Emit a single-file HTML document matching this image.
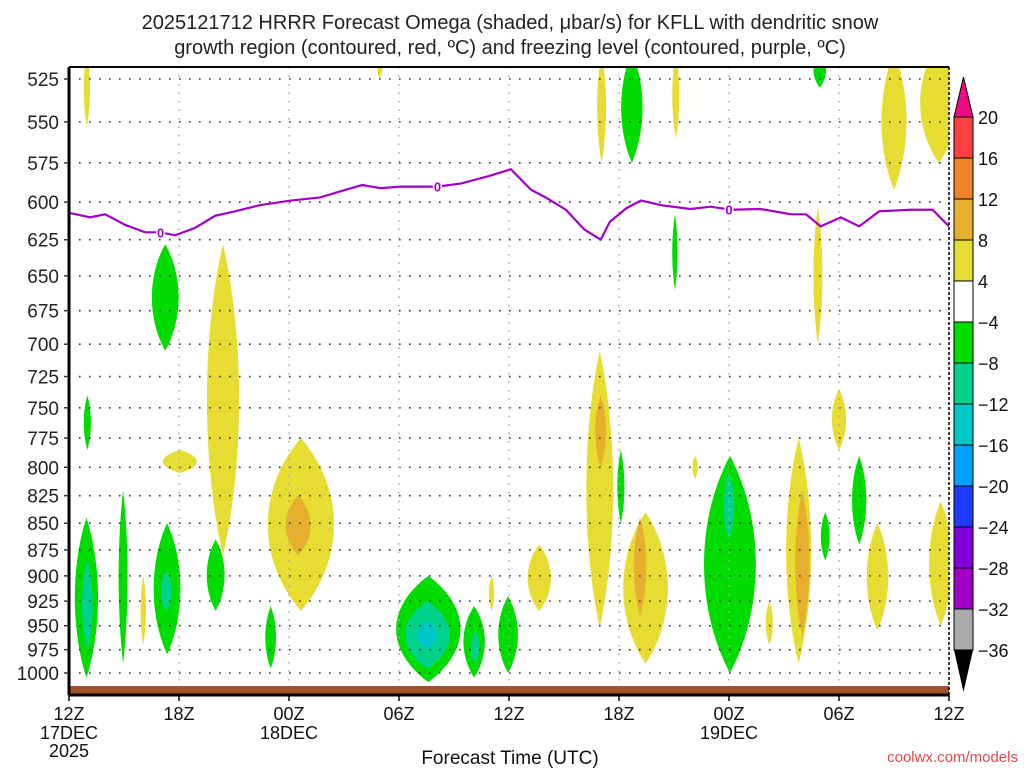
<!DOCTYPE html>
<html><head><meta charset="utf-8">
<style>
body{margin:0;background:#fff;}
svg{display:block;font-family:"Liberation Sans",sans-serif;}
</style></head>
<body>
<svg id="chart" width="1024" height="768" viewBox="0 0 1024 768">
<text x="510" y="29" font-size="20" text-anchor="middle" fill="#222">2025121712 HRRR Forecast Omega (shaded, μbar/s) for KFLL with dendritic snow</text>
<text x="510" y="54" font-size="20" text-anchor="middle" fill="#222">growth region (contoured, red, ºC) and freezing level (contoured, purple, ºC)</text>
<g id="plot"></g>
<g id="cbar"></g>
<text x="510" y="764" font-size="19" text-anchor="middle" fill="#111">Forecast Time (UTC)</text>
<text x="1018" y="762" font-size="15" text-anchor="end" fill="#e04848">coolwx.com/models</text>
</svg>
<script>
const pLevels=[525,550,575,600,625,650,675,700,725,750,775,800,825,850,875,900,925,950,975,1000];
const xTickHours=[0,6,12,18,24,30,36,42,48];
const xTickLabels=["12Z","18Z","00Z","06Z","12Z","18Z","00Z","06Z","12Z"];
const xTickDates=["17DEC","","18DEC","","","","19DEC","",""];
const frzHours=[0,1.15,1.97,3.06,4.15,4.97,5.79,6.88,7.97,9.06,10.4,12.1,13.7,15.1,16,17,18.1,20.1,21.4,23,24.1,25.2,26,27.1,28.1,29,29.5,30.4,31.2,32.3,33.9,35,36.1,37.7,39.4,40.2,41,42.1,43.1,44.2,45.9,47.1,48];
const frzPres=[607,610,608,615,620,620,622,617,609,606,602,599,597,592,589,591,590,590,588,583,579,592,597,605,618,625,613,604,599,602,604.5,603,605,604.5,608,608,616,610,616,606,605,605,616];
const frzLabelHours=[5.0,20.1,36.0];
const frzLabelPres=[620,590,605];
// blobs: start hour, end hour, top pressure, bottom pressure, colour level index
const blobT0=[0.8,4.5,5.1,7.5,0.8,0.3,0.7,2.7,3.9,4.6,5.0,7.5,10.7,10.8,11.8,17.8,18.3,19.0,21.5,21.9,23.4,22.9,25.0,16.8,28.8,30.1,28.2,28.7,29.9,30.2,30.8,32.9,32.9,34.0,34.6,35.7,38.0,39.1,39.6,40.6,40.6,41.0,41.6,42.7,43.5,44.3,46.4,46.9];
const blobT1=[1.15,6.0,7.0,9.3,1.2,1.6,1.3,3.2,4.2,6.1,5.6,8.5,11.3,14.5,13.2,21.4,20.8,20.1,22.7,22.4,24.5,23.2,26.3,17.1,29.3,31.3,29.7,29.3,30.3,32.7,31.5,33.2,33.3,34.3,37.5,36.3,38.4,40.5,40.4,41.3,41.1,41.5,42.4,43.5,44.7,45.7,48.5,48.2];
const blobPTop=[510,628,785,628,740,845,885,820,900,850,895,865,930,775,825,900,925,945,930,955,920,900,870,510,510,510,705,740,785,840,845,608,510,790,790,805,925,775,820,510,603,840,735,790,850,510,505,830];
const blobPBot=[553,705,805,880,785,1005,975,990,970,980,935,935,995,935,880,1010,995,975,1005,990,1000,935,935,525,575,575,952,800,850,990,940,660,560,810,1000,865,970,990,960,530,700,885,785,870,955,592,575,950];
const blobLevel=[4,5,4,4,5,5,6,5,4,5,6,5,5,4,3,5,6,7,5,6,5,4,4,4,4,5,4,3,5,4,3,5,4,4,5,6,4,4,3,5,4,5,4,5,4,4,4,4];
const levelColors=["#ee0a82","#ff4040","#f08228","#e6af2d","#e6dc32","#00dc00","#00d28c","#00c8c8","#00a0ff","#1e3cff","#8200dc","#a000c8","#aaaaaa","#000000"];
const cbarLabels=["20","16","12","8","4","−4","−8","−12","−16","−20","−24","−28","−32","−36"];
const cbarColors=["#ff4040","#f08228","#e6af2d","#e6dc32","#ffffff","#00dc00","#00d28c","#00c8c8","#00a0ff","#1e3cff","#8200dc","#a000c8","#aaaaaa"];

const NS="http://www.w3.org/2000/svg";
const X0=69,X1=949,Y0=67,Y1=695;
const xs=h=>X0+(h/48)*(X1-X0);
const ys=p=>79+594*Math.log(p/525)/Math.log(1000/525);
function mk(tag,attrs,parent){const e=document.createElementNS(NS,tag);for(const k in attrs)e.setAttribute(k,attrs[k]);parent.appendChild(e);return e;}
const plot=document.getElementById('plot');
const defs=mk('defs',{},plot);
const cp=mk('clipPath',{id:'clip'},defs);
mk('rect',{x:X0,y:Y0,width:X1-X0,height:Y1-Y0},cp);
const inner=mk('g',{'clip-path':'url(#clip)'},plot);

const order=[...blobT0.keys()];
order.forEach(i=>{
  const xa=xs(blobT0[i]),xb=xs(blobT1[i]);const xc=(xa+xb)/2,rx=(xb-xa)/2;
  const yt=ys(blobPTop[i]),yb=ys(blobPBot[i]);const h=yb-yt;
  const d=`M${xc},${yt} C${xc+rx*1.3},${yt+h*0.3} ${xc+rx*1.3},${yb-h*0.3} ${xc},${yb} C${xc-rx*1.3},${yb-h*0.3} ${xc-rx*1.3},${yt+h*0.3} ${xc},${yt}Z`;
  const e=mk('path',{d:d,fill:levelColors[blobLevel[i]]},inner);
  
  
});

pLevels.forEach(p=>{
  const g=mk('line',{x1:X0,x2:X1,y1:ys(p),y2:ys(p),stroke:'#333','stroke-width':1.6,'stroke-dasharray':'1.6 8.4'},inner);
  
  
});
xTickHours.forEach(h=>{
  const g=mk('line',{x1:xs(h),x2:xs(h),y1:Y0,y2:Y1,stroke:'#aaa','stroke-width':1.5,'stroke-dasharray':'1.5 7'},inner);
  
  
});
const gr=mk('rect',{x:X0,y:686,width:X1-X0,height:10,fill:'#a0522d'},inner);



const fl=mk('polyline',{points:frzHours.map((h,i)=>xs(h)+','+ys(frzPres[i])).join(' '),fill:'none',stroke:'#a000c8','stroke-width':2.2},inner);


frzLabelHours.forEach((h,i)=>{
  const t=mk('text',{x:xs(h),y:ys(frzLabelPres[i])+5,'font-size':13,'font-weight':'bold','text-anchor':'middle',fill:'#a000c8',stroke:'#fff','stroke-width':3,'paint-order':'stroke'},inner);
  t.textContent='0';
  
  
});

mk('line',{x1:X0,x2:X1,y1:Y0,y2:Y0,stroke:'#000','stroke-width':2},plot);
mk('line',{x1:X0,x2:X0,y1:Y0,y2:Y1,stroke:'#000','stroke-width':3},plot);
mk('line',{x1:X0,x2:X1,y1:Y1,y2:Y1,stroke:'#000','stroke-width':3},plot);
mk('line',{x1:X1,x2:X1,y1:Y0,y2:Y1,stroke:'#000','stroke-width':1.5,'stroke-dasharray':'3 2'},plot);

pLevels.forEach(p=>{
  mk('line',{x1:X0-5,x2:X0,y1:ys(p),y2:ys(p),stroke:'#333','stroke-width':1.5},plot);
  const t=mk('text',{x:X0-10,y:ys(p)+7,'font-size':19,'text-anchor':'end',fill:'#222'},plot);
  t.textContent=p;
  
  
});
xTickHours.forEach((h,i)=>{
  mk('line',{x1:xs(h),x2:xs(h),y1:Y1,y2:Y1+6,stroke:'#000','stroke-width':1.5},plot);
  const t=mk('text',{x:xs(h),y:720,'font-size':18,'text-anchor':'middle',fill:'#111'},plot);
  t.textContent=xTickLabels[i];
  
  
  if(xTickDates[i]){
    const d=mk('text',{x:xs(h),y:739,'font-size':18,'text-anchor':'middle',fill:'#111'},plot);
    d.textContent=xTickDates[i];
    
    
  }
});
const yr=mk('text',{x:xs(0),y:757,'font-size':18,'text-anchor':'middle',fill:'#111'},plot);
yr.textContent='2025';



const cb=document.getElementById('cbar');
const CX0=954,CX1=973,CT=117,BH=41;
mk('path',{d:`M${(CX0+CX1)/2},77 L${CX1},${CT} L${CX0},${CT}Z`,fill:levelColors[0],stroke:'#000','stroke-width':1},cb);
cbarColors.forEach((c,i)=>{
  const r=mk('rect',{x:CX0,y:CT+i*BH,width:CX1-CX0,height:BH,fill:c,stroke:'#000','stroke-width':1},cb);
  
  
});
const cbBot=CT+cbarColors.length*BH;
mk('path',{d:`M${CX0},${cbBot} L${CX1},${cbBot} L${(CX0+CX1)/2},692Z`,fill:'#000'},cb);
cbarLabels.forEach((l,i)=>{
  const t=mk('text',{x:978,y:CT+i*BH+7,'font-size':18,fill:'#111'},cb);
  t.textContent=l;
  
  
});
</script>
</body></html>
